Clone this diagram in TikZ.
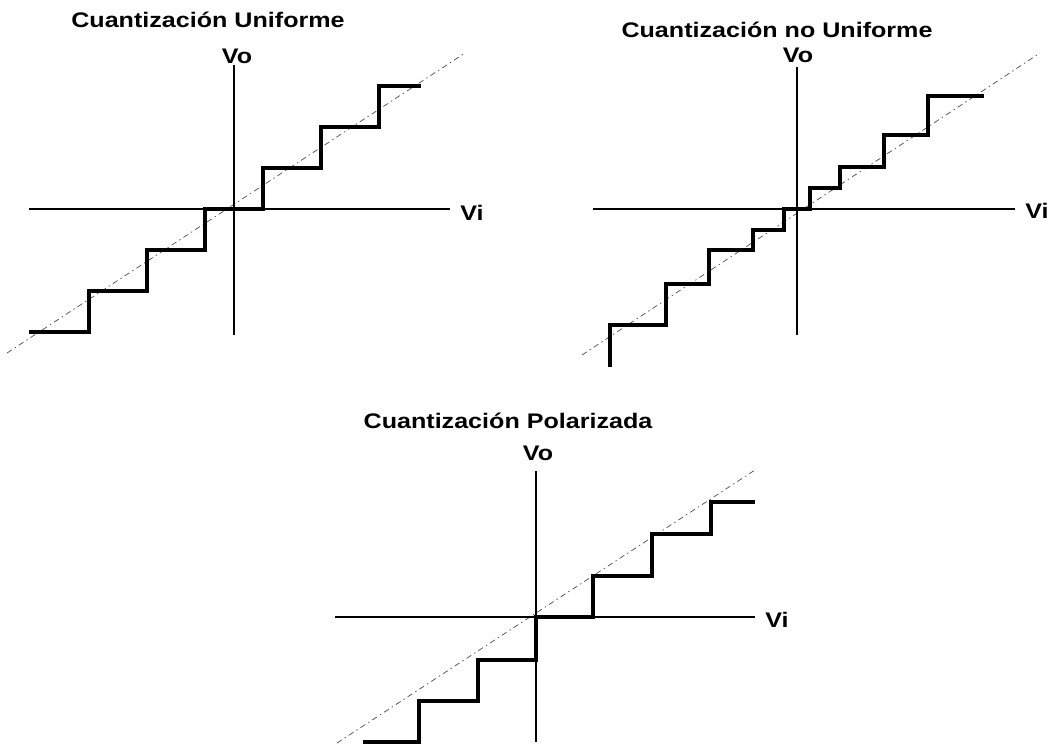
\documentclass[tikz,border=0pt]{standalone}
\usepackage{fontspec}
\setmainfont[FakeStretch=1.19]{Liberation Sans}
\usetikzlibrary{positioning}
\tikzset{%
	axis/.style    = {line width=1.2pt},
	stair/.style   = {line width=3.2pt, line join=miter},
	ideal/.style   = {black!70, line width=0.5pt, dash pattern=on 4pt off 2.5pt on 1pt off 2.5pt},
	heading/.style = {font=\fontsize{15}{18}\selectfont\bfseries, anchor=base, inner sep=0pt},
	axlabel/.style = {font=\fontsize{15}{18}\selectfont\bfseries, inner sep=0pt},
}

\begin{document}
\begin{tikzpicture}[x=0.025cm,y=0.025cm]
		\useasboundingbox (0,0) rectangle (1059,-745);
		
		% uniforme
		\begin{scope}[shift={(234,-209)}]
			\node[heading] (titU) at (-26,182) {Cuantización Uniforme};
			\draw[ideal] (-227,-144) -- (231,156);
			\draw[axis] (-205,0) -- (216,0) coordinate (viU);
			\draw[axis] (0,-126) -- (0,144) coordinate (voU);
			\node[axlabel,anchor=base] (labVoU) at (3,146) {Vo};
			\node[axlabel,anchor=base west] (labViU) at (226,-11) {Vi};
			\draw[stair] (-205,-123) -- (-145,-123) |- (-87,-82) |- (-29,-41) |- (29,0) |- (87,41) |- (145,82) |- (187,123);
		\end{scope}
		
		% no uniforme
		\begin{scope}[shift={(797,-209)}]
			\node[heading] (titN) at (-20,172) {Cuantización no Uniforme};
			\draw[ideal] (-215,-146) -- (243,156);
			\draw[axis] (-204,0) -- (218,0) coordinate (viN);
			\draw[axis] (0,-126) -- (0,142) coordinate (voN);
			\node[axlabel,anchor=base] (labVoN) at (1,147) {Vo};
			\node[axlabel,anchor=base west] (labViN) at (228,-9) {Vi};
			\draw[stair] (-187,-158) |- (-131,-116) |- (-88,-75) |- (-44,-41) |- (-13,-21) |- (13,0) |- (43,21) |- (87,42) |- (131,74) |- (187,113);
		\end{scope}
		
		% polarizada
		\begin{scope}[shift={(536,-617)}]
			\node[heading] (titP) at (-28,189) {Cuantización Polarizada};
			\draw[ideal] (-199,-126) -- (219,147);
			\draw[axis] (-201,0) -- (219,0) coordinate (viP);
			\draw[axis] (0,-125) -- (0,146) coordinate (voP);
			\node[axlabel,anchor=base] (labVoP) at (2,157) {Vo};
			\node[axlabel,anchor=base west] (labViP) at (229,-10) {Vi};
			\draw[stair] (-173,-125) -- (-117,-125) |- (-58,-84) |- (0,-43) |- (57,0) |- (116,41) |- (175,83) |- (219,115);
		\end{scope}
	\end{tikzpicture}
\end{document}
